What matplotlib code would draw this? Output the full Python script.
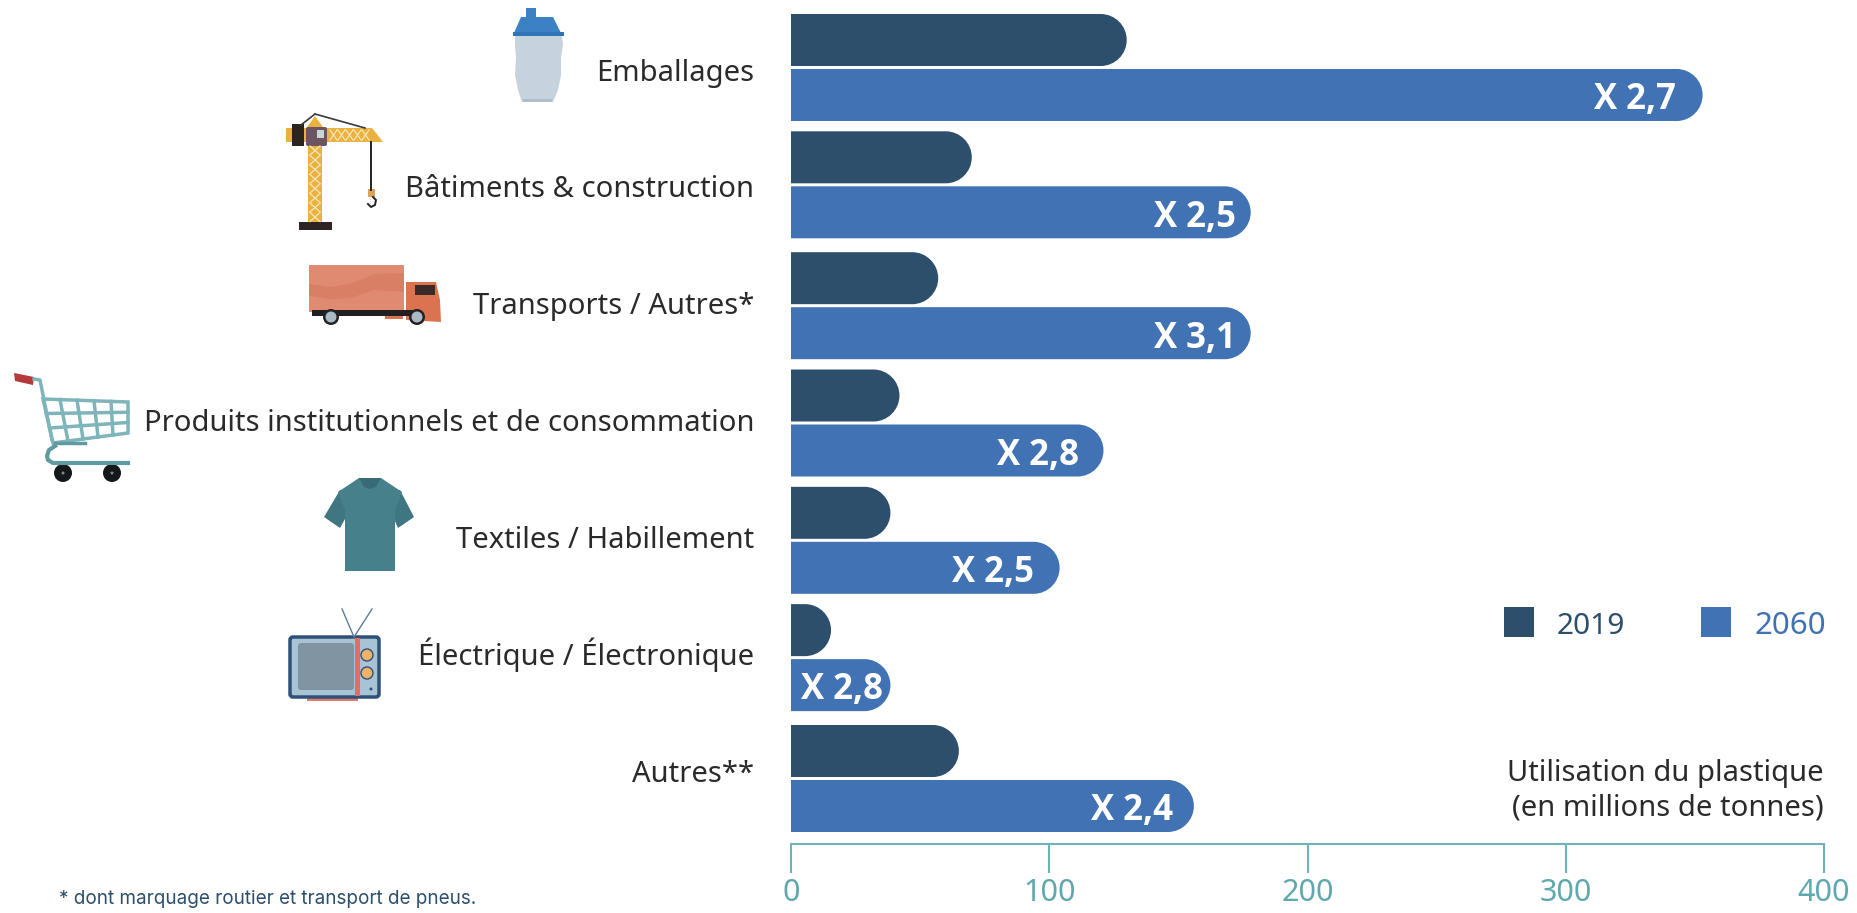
import matplotlib
matplotlib.use('Agg')
import matplotlib.pyplot as plt
from matplotlib.patches import Polygon, Rectangle, Circle, FancyBboxPatch, PathPatch
from matplotlib.path import Path

plt.rcParams['font.family'] = ['Noto Sans', 'DejaVu Sans']

# donnees
categories = ['Emballages', 'Bâtiments & construction', 'Transports / Autres*',
              'Produits institutionnels et de consommation', 'Textiles / Habillement',
              'Électrique / Électronique', 'Autres**']
val_2019 = [130, 70, 57, 42, 38.5, 15.5, 65]
val_2060 = [353, 178, 178, 121, 104, 38.5, 156]
multiplier = ['X 2,7', 'X 2,5', 'X 3,1', 'X 2,8', 'X 2,5', 'X 2,8', 'X 2,4']
label_gap = [27, 15, 15, 24, 26, 7, 21]  # ecart en px depuis le bout de la barre
row_pos = [0, 0.99, 2.01, 3, 3.99, 4.98, 6]
ticks = [0, 100, 200, 300, 400]

DARK = '#2E4F6B'
BLUE = '#4172B4'
TEAL = '#6FB2B8'
TEAL_TXT = '#5FA8AE'
TXT = '#2A2A2A'

W, H = 1857, 913
fig = plt.figure(figsize=(W / 100, H / 100), dpi=100, facecolor='white')

# axe en pixels pour les icones
bg = fig.add_axes([0, 0, 1, 1])
bg.set_xlim(0, W)
bg.set_ylim(H, 0)
bg.axis('off')

# axe principal
AX_L, AX_R, AX_B = 791, 1824, 844
ax = fig.add_axes([AX_L / W, 1 - AX_B / H, (AX_R - AX_L) / W, AX_B / H])
ax.patch.set_alpha(0)
ROW = 118.5
ax.set_xlim(0, 400)
ax.set_ylim((AX_B - 67.5) / ROW, -67.5 / ROW)
PX = 400 / (AX_R - AX_L)  # unites par pixel en x


def round_bar(y, value, height, color):
    top, bot = y - height / 2, y + height / 2
    rx = 26 * PX
    ry = height / 2
    k = 0.45
    verts = [(0, top), (value - rx, top),
             (value - rx * k, top), (value, top + ry * k), (value, y),
             (value, bot - ry * k), (value - rx * k, bot), (value - rx, bot),
             (0, bot), (0, top)]
    codes = [Path.MOVETO, Path.LINETO,
             Path.CURVE4, Path.CURVE4, Path.CURVE4,
             Path.CURVE4, Path.CURVE4, Path.CURVE4,
             Path.LINETO, Path.CLOSEPOLY]
    ax.add_patch(PathPatch(Path(verts, codes), fc=color, ec='none'))


BAR_H = 52 / ROW
OFF = 27.5 / ROW
for i in range(len(categories)):
    y = row_pos[i]
    round_bar(y - OFF, val_2019[i], BAR_H, DARK)
    round_bar(y + OFF, val_2060[i], BAR_H, BLUE)
    ax.text(val_2060[i] - label_gap[i] * PX, y + OFF + 0.045, multiplier[i], color='white',
            fontsize=25, fontweight='bold', ha='right', va='center', family=['Open Sans', 'DejaVu Sans'])
    bg.text(754, 80.5 + i * 116.9, categories[i], color=TXT, fontsize=21, ha='right', va='baseline')

for s in ['top', 'left', 'right']:
    ax.spines[s].set_visible(False)
ax.spines['bottom'].set_color(TEAL)
ax.spines['bottom'].set_linewidth(1.5)
ax.set_yticks([])
ax.set_xticks(ticks)
ax.set_xticklabels([])
ax.tick_params(axis='x', direction='out', length=21, width=1.5, color=TEAL)
# labels places a la main pour rester dans l'image
for t in ticks:
    ax.annotate(str(t), (t, 0), xycoords=('data', 'axes fraction'), xytext=(0, -41), textcoords='offset points',
                color=TEAL_TXT, fontsize=22, ha='center', va='baseline', annotation_clip=False)

# legende et titre d'axe
bg.add_patch(Rectangle((1504, 607), 30, 30, fc=DARK, ec='none'))
bg.add_patch(Rectangle((1701, 607), 30, 30, fc=BLUE, ec='none'))
bg.text(1557, 634, '2019', color=DARK, fontsize=21.5, va='baseline')
bg.text(1755, 634, '2060', color=BLUE, fontsize=22.5, va='baseline')
bg.text(1824, 781, 'Utilisation du plastique', color=TXT, fontsize=21, ha='right', va='baseline')
bg.text(1824, 816, '(en millions de tonnes)', color=TXT, fontsize=21, ha='right', va='baseline')
bg.text(59, 899, '* dont marquage routier et transport de pneus.', color=DARK, fontsize=13.6, va='center',
        family=['Inter', 'DejaVu Sans'])

# bouteille
bg.add_patch(Rectangle((526, 8), 10, 10, fc='#3B82C4', ec='none'))
bg.add_patch(Polygon([(521, 17), (553, 17), (561, 33), (514, 33)], fc='#3B82C4', ec='none'))
bg.add_patch(Rectangle((513, 32), 51, 4, fc='#2F74B5', ec='none'))
bg.add_patch(Polygon([(515, 36), (562, 36), (563, 45), (561, 58), (561, 75), (558, 90), (553, 102), (522, 102),
                      (518, 90), (515, 75), (516, 58), (515, 45)], fc='#C6D2DD', ec='none'))
bg.add_patch(Rectangle((523, 99), 29, 3, fc='#AFBDCA', ec='none'))

# grue
GOLD = '#E9B23F'
bg.plot([315, 365], [114, 128], color='#3a3a3a', lw=1.2)
bg.plot([315, 301], [114, 125], color='#3a3a3a', lw=1.2)
bg.add_patch(Polygon([(315, 116), (325, 130), (305, 130)], fc=GOLD, ec='none'))
bg.add_patch(Polygon([(286, 128), (372, 128), (383, 142), (286, 142)], fc=GOLD, ec='none'))
bg.add_patch(Rectangle((308, 142), 14, 80, fc=GOLD, ec='none'))
for k in range(8):
    y0 = 146 + k * 9.5
    bg.plot([310, 320], [y0, y0 + 9], color='#F7E6BE', lw=0.9)
    bg.plot([320, 310], [y0, y0 + 9], color='#F7E6BE', lw=0.9)
for k in range(5):
    x0 = 330 + k * 8
    bg.plot([x0, x0 + 7], [130, 140], color='#F7E6BE', lw=0.9)
    bg.plot([x0 + 7, x0], [130, 140], color='#F7E6BE', lw=0.9)
bg.add_patch(Rectangle((292, 124), 12, 22, fc='#2b2520', ec='none'))
bg.add_patch(FancyBboxPatch((308, 129), 17, 15, boxstyle='round,pad=2', fc='#6B5560', ec='none'))
bg.add_patch(Rectangle((317, 130), 7, 8, fc='#C9D3D8', ec='none'))
bg.add_patch(Rectangle((299, 222), 33, 8, fc='#2E2424', ec='none'))
bg.plot([371, 371], [142, 190], color='#222222', lw=1.4)
bg.add_patch(Rectangle((368, 189), 7, 8, fc='#D9A45C', ec='none'))
bg.plot([373, 376, 375, 371, 368], [197, 200, 205, 207, 204], color='#222222', lw=1.4)

# camion
bg.add_patch(FancyBboxPatch((310, 266), 93, 45, boxstyle='round,pad=1', fc='#E08A72', ec='none'))
bg.add_patch(Polygon([(309, 284), (330, 287), (350, 284), (375, 274), (404, 273), (404, 292), (375, 290),
                      (350, 298), (330, 299), (309, 296)], fc='#D97F66', ec='none'))
bg.add_patch(Polygon([(406, 282), (436, 282), (440, 300), (441, 322), (406, 320)], fc='#DB7350', ec='none'))
bg.add_patch(Rectangle((415, 285), 20, 10, fc='#3a2a28', ec='none'))
bg.add_patch(Rectangle((312, 310), 108, 6, fc='#1F1F1F', ec='none'))
bg.add_patch(Rectangle((385, 316), 18, 3, fc='#DB7350', ec='none'))
for cx in [331, 417]:
    bg.add_patch(Circle((cx, 317), 8, fc='#222222', ec='none'))
    bg.add_patch(Circle((cx, 317), 5.5, fc='#A9BAC6', ec='none'))

# caddie
CART = '#7DB5BA'
bg.add_patch(Polygon([(43, 399), (128, 402), (128, 433), (53, 443)], fc='none', ec=CART, lw=2.5))
for t in [0.2, 0.4, 0.6, 0.8]:
    bg.plot([43 + 85 * t, 53 + 75 * t], [399 + 3 * t, 443 - 10 * t], color=CART, lw=2.5)
for t in [0.33, 0.66]:
    bg.plot([43 + 10 * t, 128], [399 + 44 * t, 402 + 31 * t], color=CART, lw=2.5)
bg.plot([34, 40, 52, 55], [379, 380, 440, 446], color=CART, lw=2.5)
bg.plot([55, 85], [443, 443], color='#5F9AA0', lw=2.5)
bg.add_patch(Polygon([(14, 373), (34, 377), (33, 385), (15, 381)], fc='#B5393A', ec='none'))
bg.plot([55, 49, 47, 48, 53, 128], [446, 450, 456, 460, 463, 463], color='#5F9AA0', lw=3)
for cx in [63, 112]:
    bg.add_patch(Circle((cx, 473), 9, fc='#15181B', ec='none'))
    bg.add_patch(Circle((cx, 473), 1.5, fc='#7a8a90', ec='none'))

# t-shirt
bg.add_patch(Polygon([(352, 490), (340, 490), (324, 517), (340, 528), (350, 510)], fc='#3F7681', ec='none'))
bg.add_patch(Polygon([(387, 490), (400, 490), (414, 517), (398, 528), (390, 510)], fc='#3F7681', ec='none'))
bg.add_patch(Polygon([(338, 492), (359, 478), (381, 478), (402, 492), (395, 510), (395, 571), (345, 571), (345, 510)],
                     fc='#45808B', ec='none'))
bg.add_patch(Polygon([(359, 478), (381, 478), (376, 487), (370, 489), (364, 487)], fc='#376C76', ec='none'))

# tele
bg.plot([342, 354, 372], [609, 637, 609], color='#5E7C99', lw=1)
bg.add_patch(Rectangle((307, 696), 51, 5, fc='#DE7C6C', ec='none'))
bg.add_patch(FancyBboxPatch((293, 640), 83, 54, boxstyle='round,pad=3', fc='#A8C3D4', ec='#2F5078', lw=2.5))
bg.add_patch(FancyBboxPatch((301, 646), 50, 41, boxstyle='round,pad=3', fc='#8094A2', ec='none'))
bg.add_patch(Rectangle((355, 638), 5, 58, fc='#E0705C', ec='none'))
for cy in [655, 673]:
    bg.add_patch(Circle((367, cy), 6, fc='#EFB36A', ec='#2F5078', lw=1))
bg.add_patch(Circle((371, 689), 1.5, fc='#2F5078', ec='none'))

fig.savefig('out.png', dpi=100)
